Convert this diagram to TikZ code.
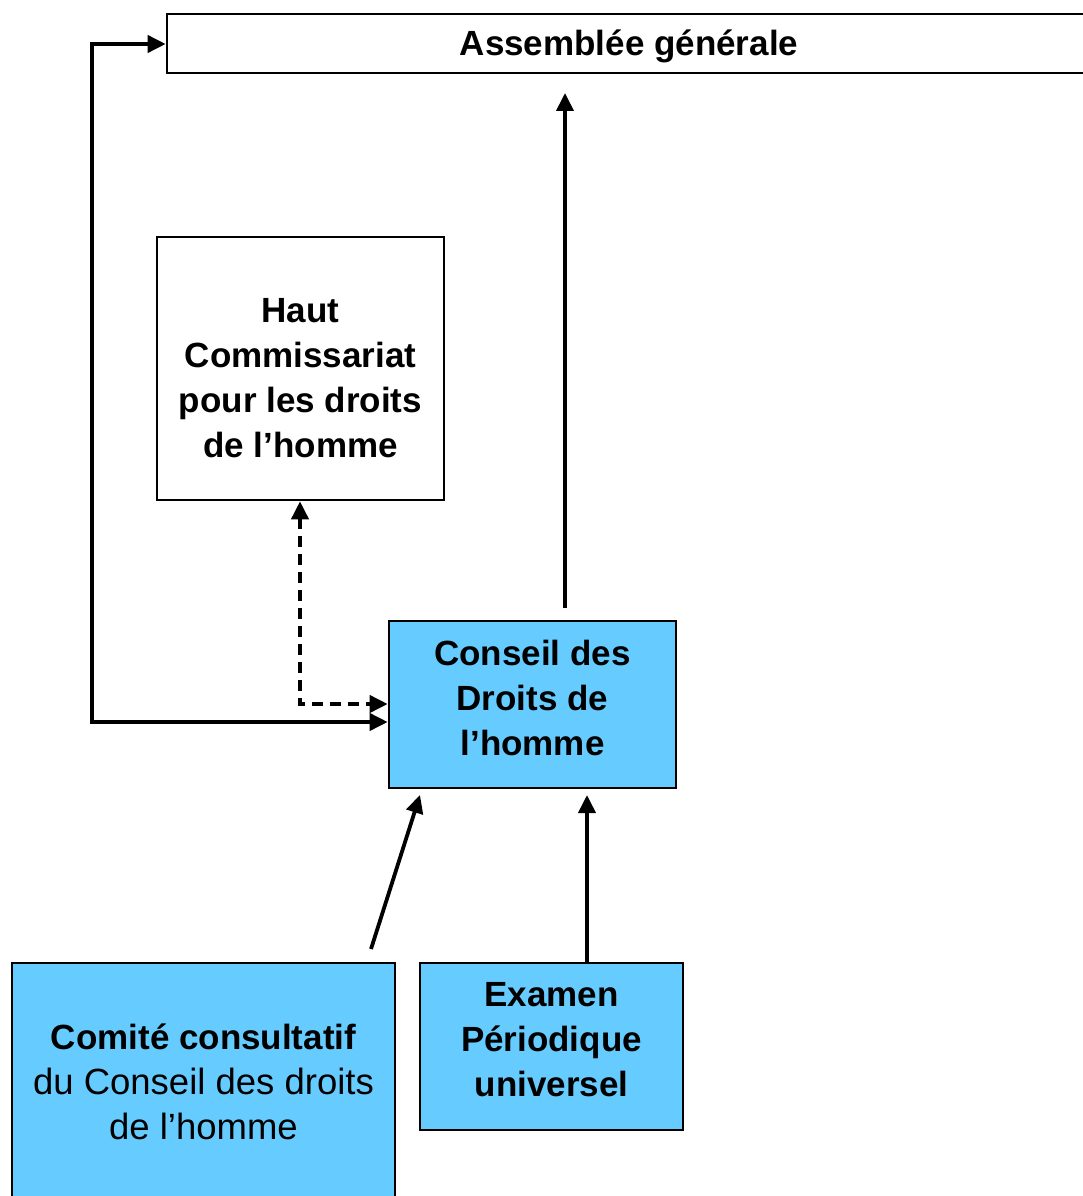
\documentclass[tikz,border=0pt]{standalone}
\usepackage{fontspec}
\setmainfont{Liberation Sans}
\usetikzlibrary{arrows.meta,calc}
\definecolor{boxblue}{HTML}{66CCFF}
\newcommand{\reglines}[1]{{\mdseries\fontsize{36.5}{45}\selectfont #1}}
\begin{document}
\begin{tikzpicture}[x=1pt,y=-1pt,
  box/.style={draw=black,line width=2.6pt,rectangle,inner sep=0pt},
  bluebox/.style={box,fill=boxblue},
  txt/.style={align=center,inner sep=0pt,font=\fontsize{35}{45}\selectfont\bfseries},
  tip/.tip={Triangle[length=18pt,width=17pt]},
  arr/.style={line width=3.8pt,-tip},
  darr/.style={line width=3.8pt,tip-tip},
  dsh/.style={darr,dash pattern=on 11pt off 7pt}]
\useasboundingbox (0,0) rectangle (1083,1196);
\clip (0,0) rectangle (1083,1196);
\fill[white] (0,0) rectangle (1083,1196);
% boxes
\node[box,minimum width=924pt,minimum height=59pt] (ag) at (629,43.5) {};
\node[box,minimum width=287pt,minimum height=263pt] (hc) at (300.5,368.5) {};
\node[bluebox,minimum width=287pt,minimum height=167pt] (cdh) at (532.5,704.5) {};
\node[bluebox,minimum width=383pt,minimum height=238pt] (cc) at (203.5,1082) {};
\node[bluebox,minimum width=263pt,minimum height=167pt] (ep) at (551.5,1046.5) {};
% texts
\node[txt] (agt) at (629,46) {Assemblée générale};
\node[txt] (hct) at (300.5,378.5) {Haut\\Commissariat\\pour les droits\\de l’homme};
\node[txt] (cdht) at (532.5,697.5) {Conseil des\\Droits de\\l’homme};
\node[txt] (cct) at (203.5,1082) {Comité consultatif\\\reglines{du Conseil des droits}\\\reglines{de l’homme}};
\node[txt] (ept) at (551.5,1040) {Examen\\Périodique\\universel};
% connectors
\coordinate (loopA) at (92,722);
\coordinate (loopB) at (92,44);
\coordinate (dA) at (300,704);
\draw[darr] (cdh.west |- loopA) -- (loopA) -- (loopB) -- (ag.west |- loopB);
\draw[dsh] (hc.south -| dA) -- (dA) -- (cdh.west |- dA);
\coordinate (up1) at (565,608);
\coordinate (up2) at (565,93);
\draw[arr] (up1) -- (up2);
\coordinate (c1) at (371,949);
\coordinate (c2) at (420,795);
\draw[arr] (c1) -- (c2);
\coordinate (e2) at (587,795);
\draw[arr] (ep.north -| e2) -- (e2);
\end{tikzpicture}
\end{document}
